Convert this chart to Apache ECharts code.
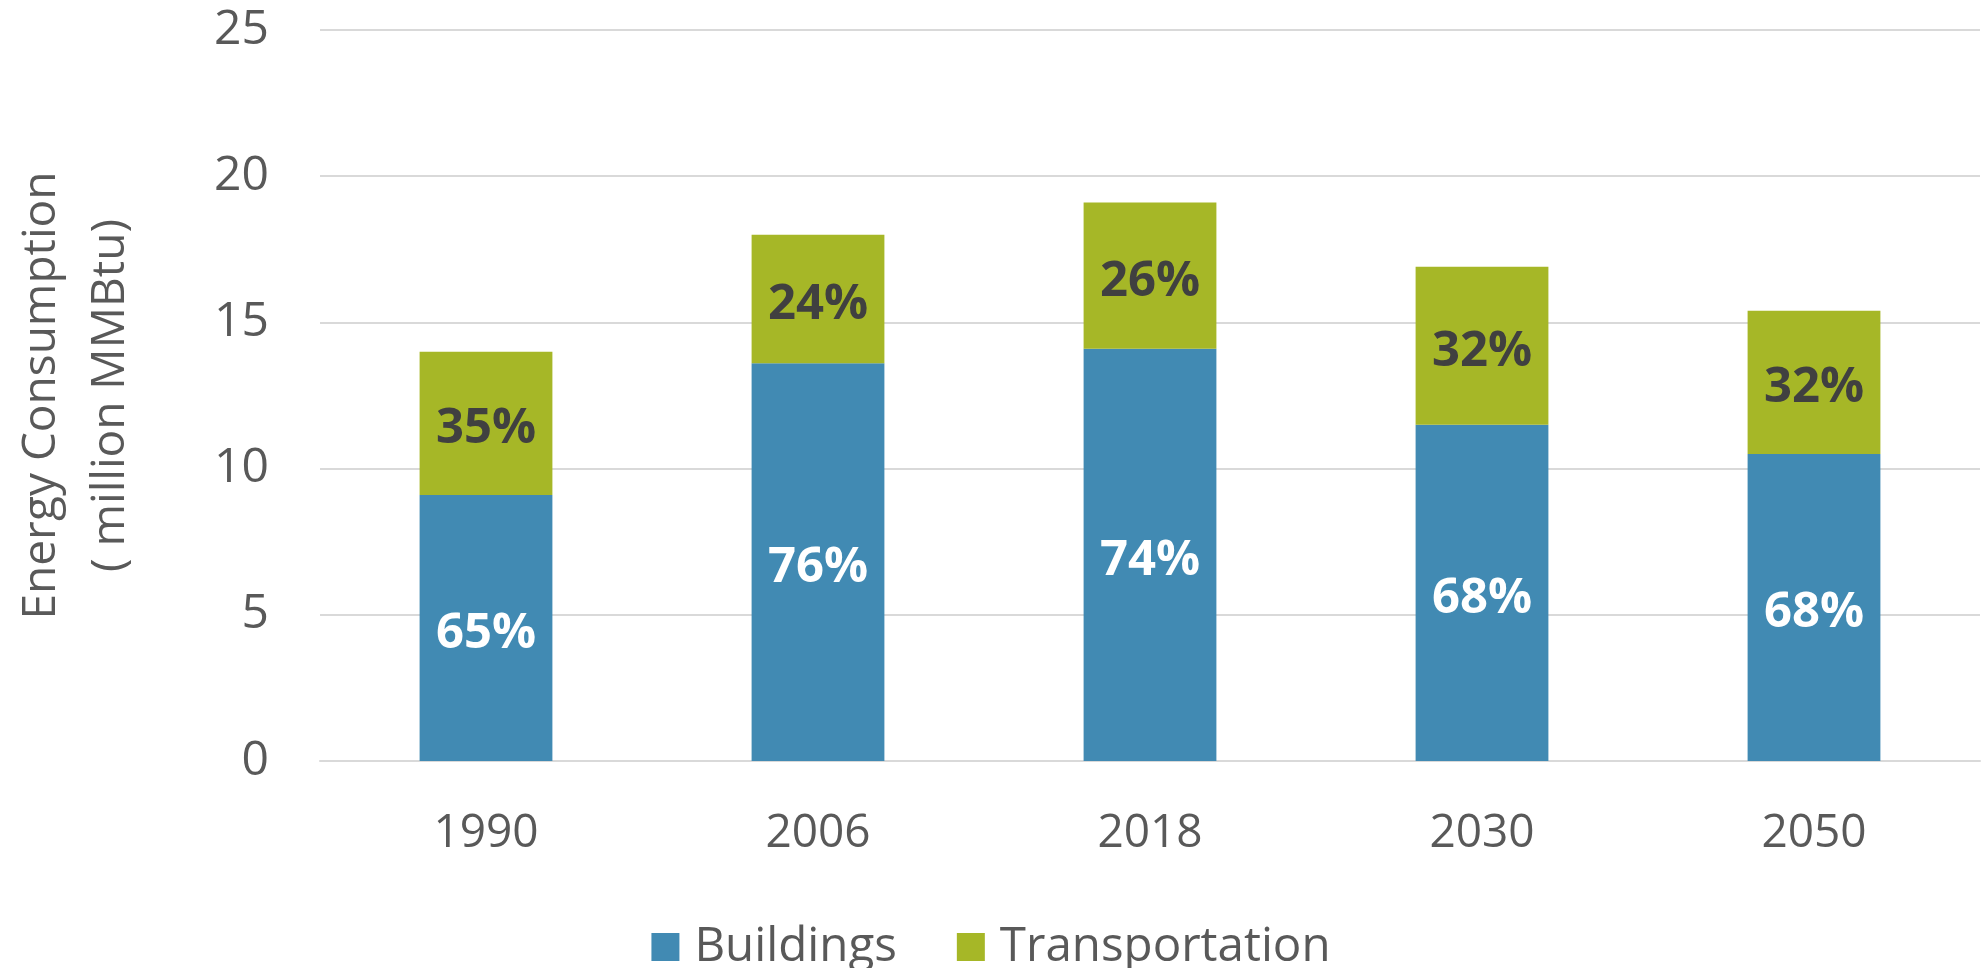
<!DOCTYPE html>
<html>
<head>
<meta charset="utf-8">
<script src="https://cdn.jsdelivr.net/npm/echarts@6/dist/echarts.min.js"></script>
<style>
  html, body { margin: 0; padding: 0; background: #fff; }
  #chart { width: 1982px; height: 968px; }
</style>
</head>
<body>
<div id="chart"></div>
<script>
// values
var years = ['1990', '2006', '2018', '2030', '2050'];
var buildings = [9.1, 13.6, 14.1, 11.5, 10.5];
var transportation = [4.9, 4.4, 5.0, 5.4, 4.9];
var buildingsPct = ['65%', '76%', '74%', '68%', '68%'];
var transportPct = ['35%', '24%', '26%', '32%', '32%'];

var font = 'Open Sans';
var chart = echarts.init(document.getElementById('chart'));

chart.setOption({
  animation: false,
  textStyle: { fontFamily: font },
  grid: { left: 320, right: 2, top: 30, bottom: 207, containLabel: false, outerBoundsMode: 'none' },
  legend: {
    top: 918,
    left: 'center',
    itemWidth: 28,
    itemHeight: 28,
    itemGap: 60,
    icon: 'rect',
    textStyle: { fontFamily: font, fontSize: 47.5, color: '#595959', padding: [0, 0, 0, 10] },
    data: ['Buildings', 'Transportation']
  },
  xAxis: {
    type: 'category',
    data: years,
    axisLine: { lineStyle: { color: '#d9d9d9', width: 2 } },
    axisTick: { show: false },
    axisLabel: { fontSize: 46, color: '#595959', margin: 50 }
  },
  yAxis: {
    type: 'value',
    min: 0,
    max: 25,
    interval: 5,
    name: 'Energy Consumption\n( million MMBtu)',
    nameLocation: 'middle',
    nameRotate: 90,
    nameGap: 175,
    nameTextStyle: { fontSize: 46, color: '#595959', lineHeight: 69 },
    axisLine: { show: false },
    axisTick: { show: false },
    splitLine: { lineStyle: { color: '#d9d9d9', width: 2 } },
    axisLabel: { fontSize: 48, color: '#595959', margin: 51 }
  },
  series: [
    {
      name: 'Buildings',
      type: 'bar',
      stack: 'total',
      barWidth: '40%',
      data: buildings,
      itemStyle: { color: '#418ab3' },
      label: {
        show: true,
        position: 'inside',
        offset: [0, 6],
        fontSize: 49,
        fontWeight: 'bold',
        color: '#ffffff',
        formatter: function (p) { return buildingsPct[p.dataIndex]; }
      }
    },
    {
      name: 'Transportation',
      type: 'bar',
      stack: 'total',
      barWidth: '40%',
      data: transportation,
      itemStyle: { color: '#a6b727' },
      label: {
        show: true,
        position: 'inside',
        offset: [0, 6],
        fontSize: 49,
        fontWeight: 'bold',
        color: '#404040',
        formatter: function (p) { return transportPct[p.dataIndex]; }
      }
    }
  ]
});
</script>
</body>
</html>
